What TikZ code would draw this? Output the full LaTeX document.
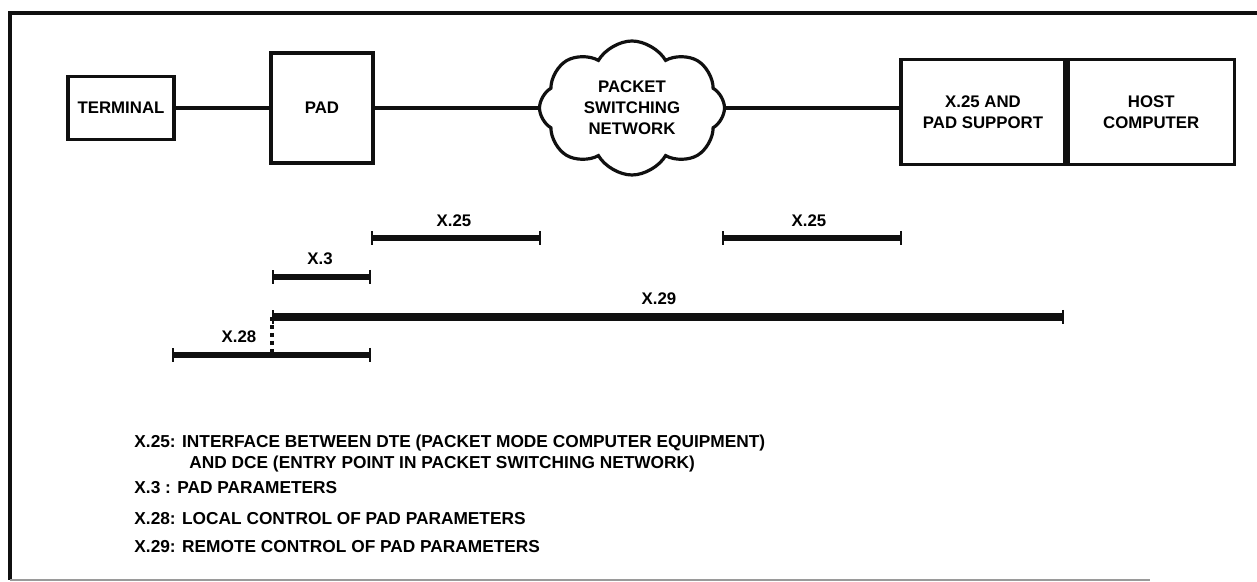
\documentclass[tikz,border=0pt]{standalone}
\usepackage{fontspec}
\setmainfont{Liberation Sans}
\usepackage{tikz}
\usetikzlibrary{arrows.meta,positioning,shapes.symbols}
\definecolor{InkBlack}{HTML}{101010}
\definecolor{EdgeGray}{HTML}{9A9A9A}
\newcommand{\labelfont}{\fontsize{8.4}{10.5}\selectfont\bfseries}
\newcommand{\notefont}{\fontsize{8.65}{10}\selectfont\bfseries}
\tikzset{
  box/.style={draw=InkBlack, line width=1.6pt, align=center, inner sep=0pt,
              font=\labelfont},
  net/.style={cloud, draw=InkBlack, line width=1.6pt, cloud puffs=8,
              cloud puff arc=120, aspect=1.4, align=center, inner sep=0pt,
              font=\labelfont},
  link/.style={draw=InkBlack, line width=1.6pt},
  span/.style={draw=InkBlack, line width=3pt,
               {Bar[width=7pt,line width=1pt]}-{Bar[width=7pt,line width=1pt]}},
  tag/.style={font=\labelfont, inner sep=0pt},
  note/.style={font=\notefont, inner sep=0pt, anchor=base west}
}

\begin{document}
\begin{tikzpicture}[x=0.5pt, y=-0.5pt]
  \useasboundingbox (0,0) rectangle (1257,582);
  % frame
  \draw[InkBlack, line width=1.6pt] (1257,13) -- (10,13) -- (10,580);
  \draw[EdgeGray, line width=1pt] (10,580) -- (1150,580);

  % devices
  \node[box, minimum width=53pt, minimum height=31.5pt] (terminal) at (121,108) {TERMINAL};
  \node[box, minimum width=51pt, minimum height=55pt] (pad) at (322,108) {PAD};
  \node[net, minimum width=92.5pt, minimum height=67pt] (psn) at (632,108)
       {PACKET\\SWITCHING\\NETWORK};
  \node[box, minimum width=82pt, minimum height=52.5pt] (support) at (983,112)
       {X.25 AND\\PAD SUPPORT};
  \node[box, minimum width=83pt, minimum height=52.5pt, anchor=west] (host)
       at (support.east) {HOST\\COMPUTER};
  \draw[link] (terminal) -- (pad);
  \draw[link] (pad) -- (psn);
  \draw[link] (psn.east) -- (psn.east -| support.west);

  % protocol spans
  \coordinate (x25a-w) at (371,238);
  \coordinate (x25a-e) at (541,238);
  \coordinate (x25b-w) at (722,238);
  \coordinate (x25b-e) at (902,238);
  \coordinate (x3-w)   at (272,277);
  \coordinate (x3-e)   at (371,277);
  \coordinate (x29-w)  at (272,317);
  \coordinate (x29-e)  at (1064,317);
  \coordinate (x28-w)  at (172,355);
  \coordinate (x28-e)  at (371,355);
  \coordinate (x28-up) at (272,352);
  \draw[span] (x25a-w) -- (x25a-e);
  \draw[span] (x25b-w) -- (x25b-e);
  \draw[span] (x3-w) -- (x3-e);
  \draw[span, line width=4pt] (x29-w) -- (x29-e);
  \draw[span] (x28-w) -- (x28-e);
  \draw[InkBlack, line width=1.6pt, dash pattern=on 2pt off 2pt] (x29-w) -- (x28-up);
  \node[tag] (x25a-lbl) at (454,221) {X.25};
  \node[tag] (x25b-lbl) at (809,221) {X.25};
  \node[tag] (x3-lbl)   at (320,259) {X.3};
  \node[tag] (x29-lbl)  at (659,299) {X.29};
  \node[tag] (x28-lbl)  at (239,337) {X.28};

  % legend
  \node[note] (note-x25)  at (134,447) {X.25: INTERFACE BETWEEN DTE (PACKET MODE COMPUTER EQUIPMENT)};
  \node[note] (note-x25b) at (189,468) {AND DCE (ENTRY POINT IN PACKET SWITCHING NETWORK)};
  \node[note] (note-x3)   at (134,493) {X.3 : PAD PARAMETERS};
  \node[note] (note-x28)  at (134,524) {X.28: LOCAL CONTROL OF PAD PARAMETERS};
  \node[note] (note-x29)  at (134,552) {X.29: REMOTE CONTROL OF PAD PARAMETERS};
\end{tikzpicture}
\end{document}
